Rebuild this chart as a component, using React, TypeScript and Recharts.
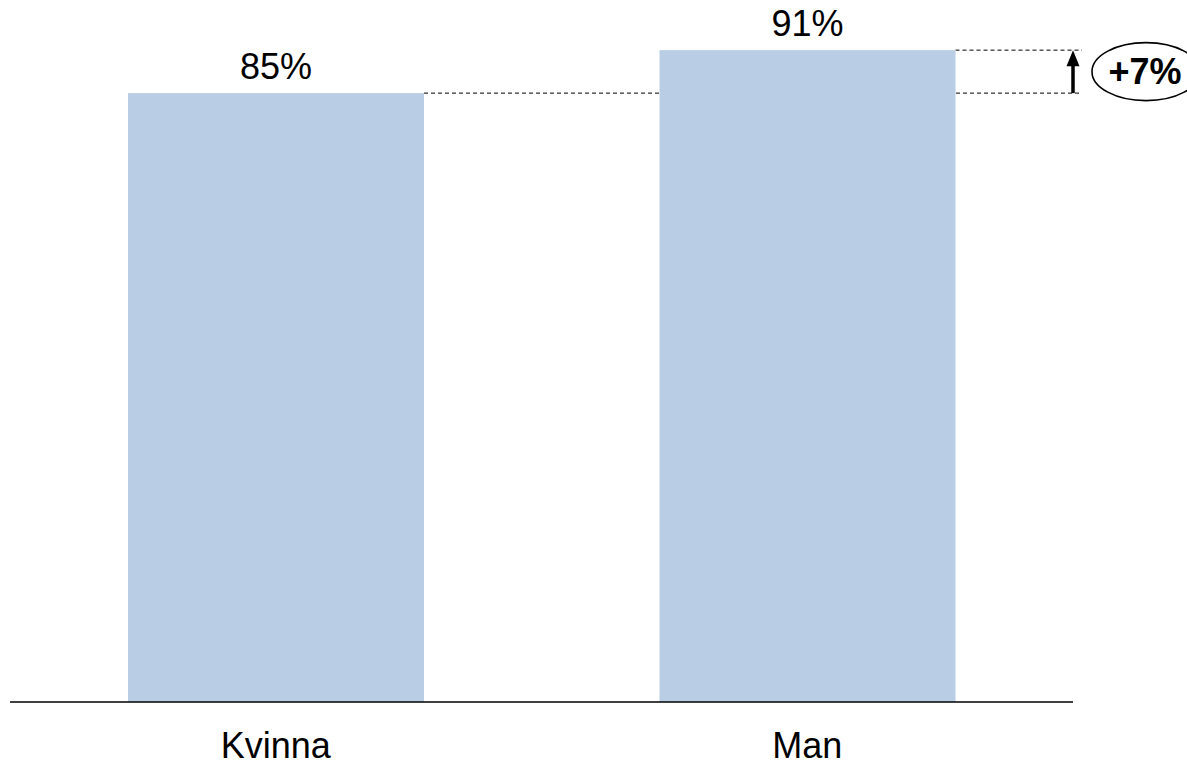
import { BarChart, Bar, XAxis, YAxis, LabelList } from "recharts";

// Andel per kön
const categories = ["Kvinna", "Man"];
const shares = [85, 91];

const data = categories.map((name, i) => ({ name, value: shares[i] }));

const W = 1187;
const H = 764;
const MARGIN = { top: 0, right: 114, bottom: 0, left: 10 };
const PLOT_RIGHT = W - MARGIN.right;
const FONT = "'Liberation Sans', Arial, Helvetica, sans-serif";
const BAR_COLOR = "#b9cde5";

// bar + dashed guide to the right; last bar also gets the difference marker
function BarWithGuide(props: any) {
  const { x, y, width, height, index } = props;
  const guideEnd = PLOT_RIGHT + 9;
  const isLast = index === data.length - 1;

  let marker = null;
  if (isLast && height > 0) {
    const pxPerUnit = height / shares[index];
    const prevTop = y + height - shares[0] * pxPerUnit;
    const diff = Math.round((shares[index] / shares[0] - 1) * 100);
    const ax = PLOT_RIGHT;
    const midY = (prevTop + y) / 2;
    marker = (
      <g>
        <line x1={ax} y1={prevTop} x2={ax} y2={y + 12} stroke="#000" strokeWidth={3.5} />
        <polygon points={`${ax},${y} ${ax - 6.5},${y + 16} ${ax + 6.5},${y + 16}`} fill="#000" />
        <ellipse cx={ax + 73} cy={midY} rx={54} ry={29} fill="none" stroke="#000" strokeWidth={1.6} />
        <text
          x={ax + 72}
          y={midY + 12}
          textAnchor="middle"
          fontFamily={FONT}
          fontWeight="bold"
          fontSize={36}
          fill="#000"
        >
          {`+${diff}%`}
        </text>
      </g>
    );
  }

  return (
    <g>
      <line
        x1={x + width}
        y1={y}
        x2={guideEnd}
        y2={y}
        stroke="#000"
        strokeWidth={1}
        strokeDasharray="4 3"
      />
      <rect x={x} y={y} width={width} height={height} fill={BAR_COLOR} />
      {marker}
    </g>
  );
}

function CategoryTick(props: any) {
  const { x, y, payload } = props;
  return (
    <text x={x} y={y + 48} textAnchor="middle" fontFamily={FONT} fontSize={36} fill="#000">
      {payload.value}
    </text>
  );
}

export default function App() {
  return (
    <div style={{ position: "absolute", left: 0, top: 0, background: "#fff" }}>
      <BarChart width={W} height={H} data={data} margin={MARGIN}>
        <XAxis
          dataKey="name"
          height={62}
          axisLine={{ stroke: "#000", strokeWidth: 1.5 }}
          tickLine={false}
          tick={<CategoryTick />}
          interval={0}
        />
        <YAxis hide domain={[0, 98]} />
        <Bar dataKey="value" barSize={296} shape={<BarWithGuide />} isAnimationActive={false}>
          <LabelList
            dataKey="value"
            position="top"
            offset={14}
            formatter={(v: any) => `${v}%`}
            style={{ fontFamily: FONT, fontSize: 36, fill: "#000" }}
          />
        </Bar>
      </BarChart>
    </div>
  );
}
